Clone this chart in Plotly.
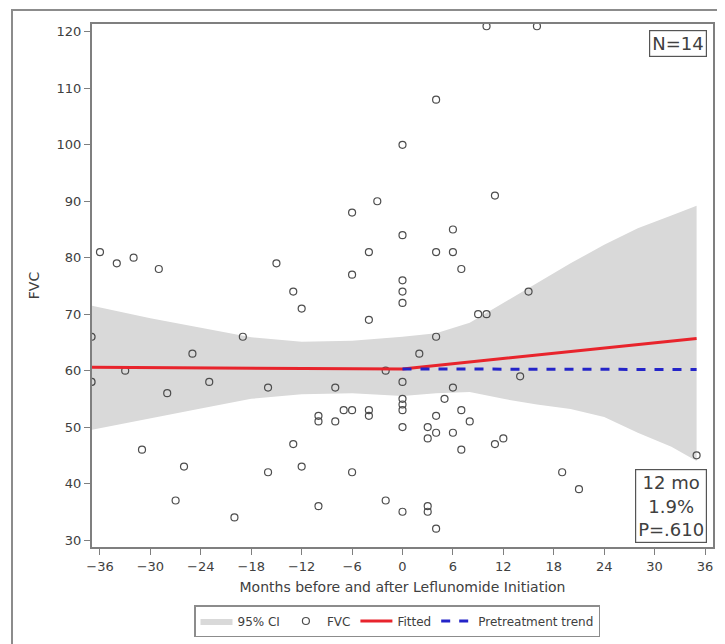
import plotly.graph_objects as go

# FVC observations (months relative to leflunomide initiation, FVC % predicted)
months = [-37, -37, -36, -34, -32, -33, -31, -29, -28, -27, -26, -25, -23, -20, -19,
          -16, -16, -15, -13, -13, -12, -12, -10, -10, -10, -8, -8, -7, -6, -6, -6, -6,
          -4, -4, -4, -4, -3, -2, -2, 0, 0, 0, 0, 0, 0, 0, 0, 0, 0, 0,
          2, 3, 3, 3, 3, 4, 4, 4, 4, 4, 4, 5, 6, 6, 6, 6, 7, 7, 7, 8,
          9, 10, 10, 11, 11, 12, 14, 15, 16, 19, 21, 35]
fvc = [66, 58, 81, 79, 80, 60, 46, 78, 56, 37, 43, 63, 58, 34, 66,
       57, 42, 79, 74, 47, 71, 43, 52, 51, 36, 57, 51, 53, 88, 77, 53, 42,
       81, 69, 53, 52, 90, 60, 37, 100, 84, 76, 74, 72, 58, 55, 54, 53, 50, 35,
       63, 50, 48, 36, 35, 108, 81, 66, 52, 49, 32, 55, 85, 81, 57, 49, 78, 53, 46, 51,
       70, 70, 121, 91, 47, 48, 59, 74, 121, 42, 39, 45]

# Fitted piecewise trend
fit_x = [-37, 0, 35]
fit_y = [60.6, 60.3, 65.7]

# Pretreatment trend extended after initiation
pre_x = [0, 35]
pre_y = [60.3, 60.2]

# 95% confidence band
ci_x = [-37, -30, -24, -18, -12, -6, 0, 4, 8, 12, 16, 20, 24, 28, 32, 35]
ci_upper = [71.5, 69.3, 67.6, 65.9, 65.1, 65.3, 66.0, 66.6, 68.5, 72.0, 75.5, 79.0, 82.3, 85.2, 87.5, 89.2]
ci_lower = [49.5, 51.6, 53.3, 55.0, 55.8, 56.0, 55.5, 56.0, 56.2, 55.0, 54.0, 53.2, 51.8, 49.0, 46.5, 44.0]

x_ticks = list(range(-36, 37, 6))
y_ticks = list(range(30, 121, 10))

FONT = "DejaVu Sans"
TXT = "#404040"
AX = "#7f7f7f"

fig = go.Figure()

fig.add_trace(go.Scatter(x=ci_x, y=ci_upper, mode="lines", line=dict(width=0),
                         showlegend=False, hoverinfo="skip"))
fig.add_trace(go.Scatter(x=ci_x, y=ci_lower, mode="lines", line=dict(width=0),
                         fill="tonexty", fillcolor="rgb(217,217,217)",
                         name="95% CI"))
fig.add_trace(go.Scatter(x=months, y=fvc, mode="markers", name="FVC",
                         marker=dict(symbol="circle-open", size=7,
                                     color="#4d4d4d", line=dict(width=1.2))))
fig.add_trace(go.Scatter(x=fit_x, y=fit_y, mode="lines", name="Fitted",
                         line=dict(color="#e8242c", width=3)))
fig.add_trace(go.Scatter(x=pre_x, y=pre_y, mode="lines", name="Pretreatment trend",
                         line=dict(color="#2424c8", width=3, dash="dash")))

# page body has an 8px default margin, so the figure starts at (8, 8)
OFF = 8
W, H = 725 - OFF, 644 - OFF
L, R, T, B = 92 - OFF, 12, 24 - OFF, 97
pw, ph = W - L - R, H - T - B

def px_x(p):
    return (p - OFF - L) / pw

def px_y(p):
    return (OFF + H - B - p) / ph

fig.update_layout(
    width=W, height=H,
    margin=dict(l=L, r=R, t=T, b=B, pad=0, autoexpand=False),
    paper_bgcolor="white", plot_bgcolor="white",
    font=dict(family=FONT, color=TXT, size=13),
    legend=dict(orientation="h", x=px_x(397), xanchor="center", y=px_y(621), yanchor="middle",
                traceorder="normal",
                bordercolor="#8c8c8c", borderwidth=1.5, bgcolor="white",
                font=dict(size=12, family=FONT, color=TXT),
                itemwidth=32, tracegroupgap=0),
    xaxis=dict(range=[-36.95, 36.95], tickvals=x_ticks, ticks="outside", ticklen=6,
               tickcolor=AX, showline=True, linecolor=AX, linewidth=2, mirror=True,
               showgrid=False, zeroline=False, tickfont=dict(size=13), automargin=False,
               title=dict(text="Months before and after Leflunomide Initiation",
                          font=dict(size=14), standoff=10)),
    yaxis=dict(range=[28.76, 121.4], tickvals=y_ticks, ticks="outside", ticklen=6,
               tickcolor=AX, showline=True, linecolor=AX, linewidth=2, mirror=True,
               showgrid=False, zeroline=False, tickfont=dict(size=13), automargin=False,
               title=dict(text="FVC", font=dict(size=14), standoff=14)),
    shapes=[
        dict(type="rect", xref="paper", yref="paper",
             x0=px_x(12), x1=px_x(727), y0=px_y(648), y1=px_y(10),
             line=dict(color="#8c8c8c", width=2), layer="below"),
    ],
    annotations=[
        dict(text="N=14", xref="paper", yref="paper", x=px_x(707), y=px_y(30),
             xanchor="right", yanchor="top", showarrow=False,
             font=dict(size=18, color=TXT), bordercolor="#555555", borderwidth=1.2,
             borderpad=2, bgcolor="white"),
        dict(text="12 mo<br>1.9%<br>P=.610", xref="paper", yref="paper",
             x=px_x(707), y=px_y(543), xanchor="right", yanchor="bottom",
             showarrow=False, align="center",
             font=dict(size=18, color=TXT), bordercolor="#555555", borderwidth=1.2,
             borderpad=2, bgcolor="white"),
    ],
)

fig.write_html("out.html")
